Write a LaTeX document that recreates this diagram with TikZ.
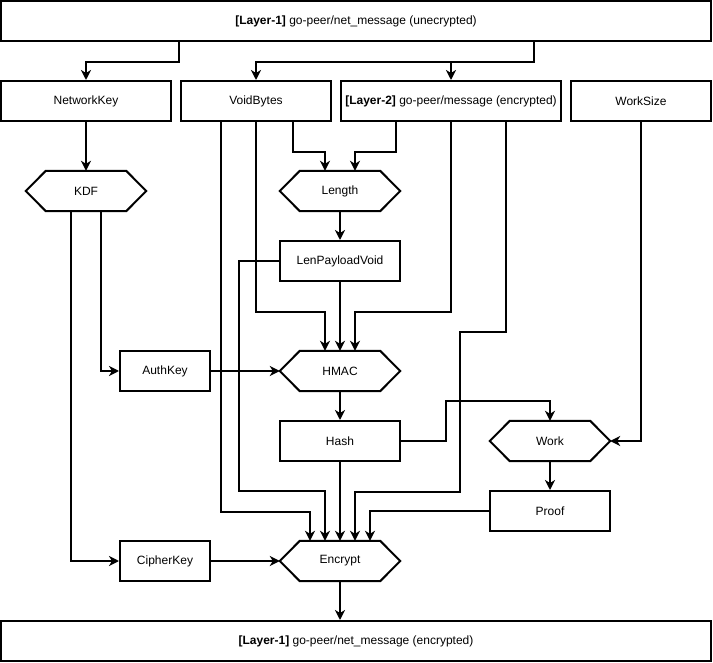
\documentclass[tikz,border=0pt]{standalone}
\usepackage{fontspec}
\setmainfont{Liberation Sans}
\usetikzlibrary{arrows.meta}
\begin{document}
\begin{tikzpicture}[x=1pt,y=-1pt,
  every node/.style={font=\fontsize{12}{14}\selectfont},
  box/.style={draw, line width=2pt, minimum height=40pt, inner sep=0pt},
  hexbox/.style={minimum width=120pt, minimum height=40pt, inner sep=0pt},
  link/.style={line width=2pt, -{Stealth[length=10pt,width=10pt,inset=3pt]}}]
\useasboundingbox (0,0) rectangle (713,663);

% boxes and operations
\node[box, minimum width=710pt] (top) at (356,21) {\textbf{[Layer-1]} go-peer/net\_message (unecrypted)};
\node[box, minimum width=170pt] (netkey) at (86,101) {NetworkKey};
\node[box, minimum width=150pt] (void) at (256,101) {VoidBytes};
\node[box, minimum width=220pt] (layer2) at (451,101) {\textbf{[Layer-2]} go-peer/message (encrypted)};
\node[box, minimum width=140pt] (worksize) at (641,101) {WorkSize};
\node[hexbox] (kdf) at (86,191) {KDF};
\node[hexbox] (len) at (340,191) {Length};
\node[box, minimum width=120pt] (lpv) at (340,261) {LenPayloadVoid};
\node[box, minimum width=90pt] (auth) at (165,371) {AuthKey};
\node[hexbox] (hmac) at (340,371) {HMAC};
\node[box, minimum width=120pt] (hash) at (340,441) {Hash};
\node[hexbox] (work) at (550,441) {Work};
\node[box, minimum width=120pt] (proof) at (550,511) {Proof};
\node[box, minimum width=90pt] (cipher) at (165,561) {CipherKey};
\node[hexbox] (enc) at (340,561) {Encrypt};
\node[box, minimum width=710pt] (bottom) at (356,641) {\textbf{[Layer-1]} go-peer/net\_message (encrypted)};

% hexagon outlines of the operations
\foreach \h in {kdf,len,hmac,work,enc}
  \draw[line width=2pt] (\h.west) -- ([xshift=20pt]\h.north west) -- ([xshift=-20pt]\h.north east)
    -- (\h.east) -- ([xshift=-20pt]\h.south east) -- ([xshift=20pt]\h.south west) -- cycle;

% connectors
\coordinate (tl) at ([xshift=-177.5pt]top.south);
\coordinate (tr) at ([xshift=177.5pt]top.south);
\draw[link] (tl) -- ++(0,20) -| (netkey.north);
\draw[link] (tr) -- ++(0,20) -| (void.north);
\draw[link] (tr) -- ++(0,20) -| (layer2.north);
\draw[link] (netkey.south) -- (kdf.north);
\draw[link] ([xshift=15pt]kdf.south) |- (auth.west);
\draw[link] ([xshift=-15pt]kdf.south) |- (cipher.west);
\draw[link] ([xshift=37pt]void.south) -- ++(0,30) -| ([xshift=-15pt]len.north);
\draw[link] ([xshift=-55pt]layer2.south) -- ++(0,30) -| ([xshift=15pt]len.north);
\draw[link] (len.south) -- (lpv.north);
\draw[link] (void.south) -- ++(0,190) -| ([xshift=-15pt]hmac.north);
\draw[link] (lpv.south) -- (hmac.north);
\draw[link] (layer2.south) -- ++(0,190) -| ([xshift=15pt]hmac.north);
\draw[link] (auth.east) -- (hmac.west);
\draw[link] (hmac.south) -- (hash.north);
\draw[link] (hash.east) -- ++(45,0) -- ++(0,-40) -| (work.north);
\draw[link] (worksize.south) |- (work.east);
\draw[link] (work.south) -- (proof.north);
\draw[link] ([xshift=-35pt]void.south) -- ++(0,390) -| ([xshift=-30pt]enc.north);
\draw[link] (lpv.west) -- ++(-40,0) -- ++(0,230) -| ([xshift=-15pt]enc.north);
\draw[link] (hash.south) -- (enc.north);
\draw[link] ([xshift=55pt]layer2.south) -- ++(0,210) -- ++(-46,0) -- ++(0,160) -| ([xshift=15pt]enc.north);
\draw[link] (proof.west) -| ([xshift=30pt]enc.north);
\draw[link] (cipher.east) -- (enc.west);
\draw[link] (enc.south) -- (enc.south |- bottom.north);
\end{tikzpicture}
\end{document}
